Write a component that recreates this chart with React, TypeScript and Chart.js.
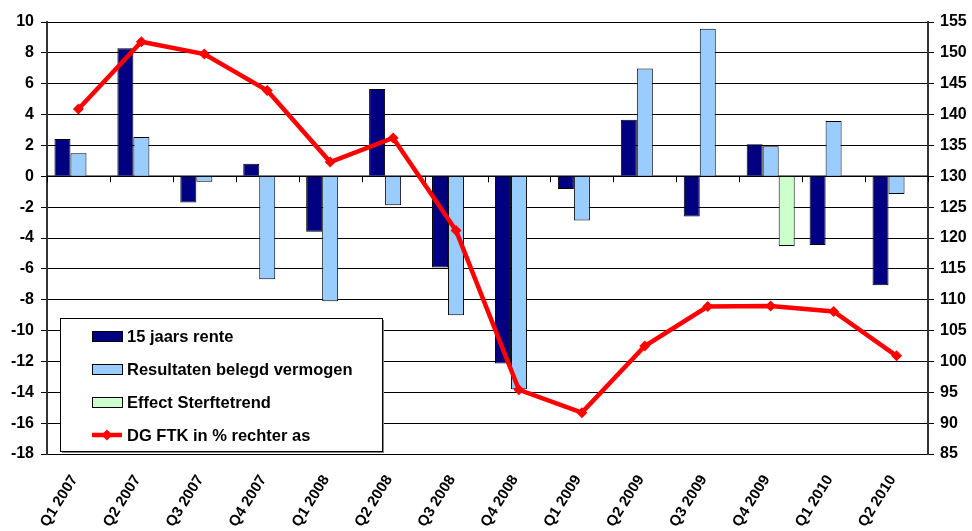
import React, { useEffect, useRef } from "react";
import { Chart, registerables } from "chart.js";

Chart.register(...registerables);

const categories = [
  "Q1 2007", "Q2 2007", "Q3 2007", "Q4 2007",
  "Q1 2008", "Q2 2008", "Q3 2008", "Q4 2008",
  "Q1 2009", "Q2 2009", "Q3 2009", "Q4 2009",
  "Q1 2010", "Q2 2010",
];
const rente = [2.42, 8.3, -1.7, 0.82, -3.6, 5.66, -5.92, -12.14, -0.82, 3.67, -2.6, 2.07, -4.45, -7.06];
const belegd = [1.5, 2.55, -0.35, -6.68, -8.1, -1.88, -9.0, -13.8, -2.87, 6.98, 9.57, 1.94, 3.58, -1.15];
const sterfte = [null, null, null, null, null, null, null, null, null, null, null, -4.52, null, null];
const dgFtk = [140.9, 151.8, 149.8, 143.9, 132.3, 136.2, 121.2, 95.4, 91.7, 102.5, 108.9, 109, 108.1, 100.9];

const seriesNames = ["15 jaars rente", "Resultaten belegd vermogen", "Effect Sterftetrend", "DG FTK in % rechter as"];
const leftMin = -18, leftMax = 10, leftStep = 2;
const rightMin = 85, rightMax = 155, rightStep = 5;

const FONT = '"Liberation Sans", Arial, sans-serif';
const NAVY = "#000080";
const LIGHT = "#99CCFF";
const GREEN = "#CCFFCC";
const RED = "#FF0000";

const zeroTicksPlugin = {
  id: "zeroTicks",
  beforeDatasetsDraw(chart: any) {
    const { ctx, chartArea, scales } = chart;
    const y0 = scales.y.getPixelForValue(0);
    const n = categories.length;
    const w = (chartArea.right - chartArea.left) / n;
    ctx.save();
    ctx.strokeStyle = "#000";
    ctx.lineWidth = 1.5;
    ctx.beginPath();
    ctx.moveTo(chartArea.left, y0);
    ctx.lineTo(chartArea.right, y0);
    ctx.stroke();
    ctx.lineWidth = 1;
    for (let i = 0; i <= n; i++) {
      const x = Math.round(chartArea.left + i * w) + 0.5;
      ctx.beginPath();
      ctx.moveTo(x, y0);
      ctx.lineTo(x, y0 + 6);
      ctx.stroke();
    }
    ctx.restore();
  },
};

const legendPlugin = {
  id: "boxLegend",
  afterDraw(chart: any) {
    const { ctx } = chart;
    const bx = 60, by = 318, bw = 322, bh = 133;
    ctx.save();
    ctx.fillStyle = "#888";
    ctx.fillRect(bx + 2, by + 2, bw, bh);
    ctx.fillStyle = "#fff";
    ctx.fillRect(bx, by, bw, bh);
    ctx.strokeStyle = "#000";
    ctx.lineWidth = 1;
    ctx.strokeRect(bx + 0.5, by + 0.5, bw, bh);
    const rows = [336, 369, 402, 435];
    const fills = [NAVY, LIGHT, GREEN];
    ctx.font = `bold 16.5px ${FONT}`;
    ctx.textBaseline = "middle";
    ctx.textAlign = "left";
    rows.forEach((ry, i) => {
      if (i < 3) {
        ctx.fillStyle = fills[i];
        ctx.fillRect(92, ry - 5, 30, 10);
        ctx.strokeStyle = "#000";
        ctx.lineWidth = 1;
        ctx.strokeRect(92.5, ry - 4.5, 30, 10);
      } else {
        ctx.strokeStyle = RED;
        ctx.lineWidth = 4.5;
        ctx.beginPath();
        ctx.moveTo(92, ry);
        ctx.lineTo(122, ry);
        ctx.stroke();
        ctx.fillStyle = RED;
        ctx.beginPath();
        ctx.moveTo(107, ry - 5.5);
        ctx.lineTo(112.5, ry);
        ctx.lineTo(107, ry + 5.5);
        ctx.lineTo(101.5, ry);
        ctx.closePath();
        ctx.fill();
      }
      ctx.fillStyle = "#000";
      ctx.fillText(seriesNames[i], 127, ry + 1);
    });
    ctx.restore();
  },
};

export default function App() {
  const ref = useRef<HTMLCanvasElement | null>(null);
  useEffect(() => {
    if (!ref.current) return;
    const chart = new Chart(ref.current, {
      type: "bar",
      data: {
        labels: categories,
        datasets: [
          {
            type: "line",
            label: seriesNames[3],
            data: dgFtk,
            yAxisID: "y2",
            borderColor: RED,
            backgroundColor: RED,
            borderWidth: 4.5,
            pointStyle: "rectRot",
            pointRadius: 5.5,
            pointBorderWidth: 0,
            pointBackgroundColor: RED,
            tension: 0,
            order: 0,
          } as any,
          {
            label: seriesNames[0],
            data: rente,
            backgroundColor: NAVY,
            borderColor: "#000",
            borderWidth: 1,
            yAxisID: "y",
            order: 1,
          },
          {
            label: seriesNames[1],
            data: belegd,
            backgroundColor: LIGHT,
            borderColor: "#000",
            borderWidth: 1,
            yAxisID: "y",
            order: 1,
          },
          {
            label: seriesNames[2],
            data: sterfte as any,
            backgroundColor: GREEN,
            borderColor: "#000",
            borderWidth: 1,
            yAxisID: "y",
            order: 1,
          },
        ],
      },
      options: {
        animation: false,
        responsive: false,
        maintainAspectRatio: false,
        layout: { padding: { top: 22, left: 0, right: 0, bottom: 0 } },
        datasets: {
          bar: { categoryPercentage: 0.763, barPercentage: 1.0 },
        },
        plugins: {
          legend: { display: false },
          tooltip: { enabled: false },
        },
        scales: {
          x: {
            offset: true,
            grid: { display: false },
            border: { display: false },
            ticks: {
              color: "#000",
              font: { family: FONT, size: 15, weight: "bold" },
              minRotation: 58,
              maxRotation: 58,
              padding: 10,
              labelOffset: -4,
              autoSkip: false,
            },
            afterFit(scale: any) {
              scale.height = 77;
            },
          },
          y: {
            position: "left",
            min: leftMin,
            max: leftMax,
            ticks: {
              stepSize: leftStep,
              color: "#000",
              font: { family: FONT, size: 16, weight: "bold" },
              padding: 7,
            },
            grid: {
              color: "#000",
              lineWidth: 1,
              tickLength: 6,
              tickColor: "#000",
            },
            border: { display: true, color: "#333", width: 2 },
            afterFit(scale: any) {
              scale.width = 47;
            },
          },
          y2: {
            position: "right",
            min: rightMin,
            max: rightMax,
            ticks: {
              stepSize: rightStep,
              color: "#000",
              font: { family: FONT, size: 16, weight: "bold" },
              padding: 6,
            },
            grid: {
              drawOnChartArea: false,
              tickLength: 6,
              tickColor: "#000",
            },
            border: { display: true, color: "#333", width: 2 },
            afterFit(scale: any) {
              scale.width = 44;
            },
          },
        },
      },
      plugins: [zeroTicksPlugin, legendPlugin],
    });
    return () => chart.destroy();
  }, []);
  return (
    <div style={{ position: "absolute", left: 0, top: 0, width: 972, height: 531, background: "#fff" }}>
      <canvas ref={ref} width={972} height={531} style={{ width: 972, height: 531 }} />
    </div>
  );
}
